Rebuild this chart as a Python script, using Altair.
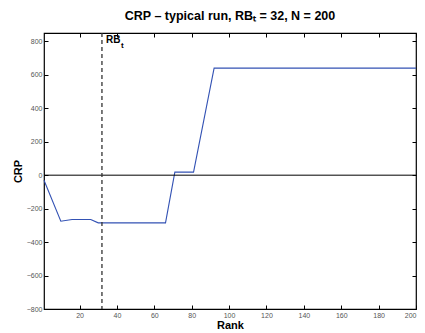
import altair as alt
import pandas as pd

# data
rank = [1, 10, 16, 26, 30, 66, 71, 81, 92, 200]
crp = [-30, -275, -265, -265, -285, -285, 18, 18, 640, 640]
x_ticks = [20, 40, 60, 80, 100, 120, 140, 160, 180, 200]
y_ticks = [-800, -600, -400, -200, 0, 200, 400, 600, 800]
rb_t = [32]
zero_line = [0]
label_y = [812]

FONT = "Liberation Sans"

df = pd.DataFrame({"rank": rank, "crp": crp})
xs = alt.Scale(domain=[1, 200], nice=False, zero=False)
ys = alt.Scale(domain=[-800, 850], nice=False, zero=False)

common_axis = dict(grid=False, domain=False, labelFont=FONT, titleFont=FONT)

line = alt.Chart(df).mark_line(color="#3352b4", strokeWidth=1.1).encode(
    x=alt.X("rank:Q", scale=xs, axis=alt.Axis(
        orient="bottom", values=x_ticks, title="Rank", tickSize=0,
        labelPadding=2, labelFontSize=7, labelColor="#555", labelFlush=True,
        titleFontSize=11, titleFontWeight="bold", titlePadding=1.5, titleColor="black",
        **common_axis)),
    y=alt.Y("crp:Q", scale=ys, axis=alt.Axis(
        orient="left", values=y_ticks, title="CRP", tickSize=0,
        labelPadding=2, labelFontSize=7, labelColor="#555",
        titleFontSize=11, titleFontWeight="bold", titlePadding=3, titleColor="black",
        **common_axis)),
)

def tick_layer(xo, yo):
    return alt.Chart(df).mark_point(opacity=0).encode(
        x=alt.X("rank:Q", scale=xs, axis=alt.Axis(
            orient=xo, values=x_ticks, labels=False, title=None, tickSize=4,
            offset=-4, tickColor="black", grid=False, domain=False)),
        y=alt.Y("crp:Q", scale=ys, axis=alt.Axis(
            orient=yo, values=y_ticks, labels=False, title=None, tickSize=4,
            offset=-4, tickColor="black", grid=False, domain=False)),
    )

ticks_a = tick_layer("bottom", "left")
ticks_b = tick_layer("top", "right")

zero_rule = alt.Chart(pd.DataFrame({"y": zero_line})).mark_rule(
    color="black", strokeWidth=1).encode(y=alt.Y("y:Q", scale=ys, axis=None))

rb_rule = alt.Chart(pd.DataFrame({"x": rb_t})).mark_rule(
    color="#333", strokeWidth=1.3, strokeDash=[4, 3]).encode(
    x=alt.X("x:Q", scale=xs, axis=None))

lab_df = pd.DataFrame({"x": rb_t, "y": label_y})
rb_text = alt.Chart(lab_df).mark_text(
    text="RB", font=FONT, fontSize=10, fontWeight="bold", align="left",
    baseline="middle", dx=4, dy=1, color="black").encode(
    x=alt.X("x:Q", scale=xs, axis=None), y=alt.Y("y:Q", scale=ys, axis=None))
rb_sub = alt.Chart(lab_df).mark_text(
    text="t", font=FONT, fontSize=8, fontWeight="bold", align="left",
    baseline="middle", dx=19, dy=7, color="black").encode(
    x=alt.X("x:Q", scale=xs, axis=None), y=alt.Y("y:Q", scale=ys, axis=None))

chart = alt.layer(line, ticks_a, ticks_b, zero_rule, rb_rule, rb_text, rb_sub).resolve_axis(
    x="independent", y="independent"
).properties(
    width=372, height=276,
    padding={"left": 36, "top": 25, "right": 1, "bottom": 24},
    autosize=alt.AutoSizeParams(type="none"),
    title=alt.TitleParams("CRP – typical run, RBₜ = 32, N = 200", font=FONT,
                          fontSize=12.5, fontWeight="bold", offset=10, anchor="middle",
                          color="black"),
).configure_view(stroke="black", strokeWidth=1.2)

chart.save("out.html", embed_options={"renderer": "svg", "actions": False})
